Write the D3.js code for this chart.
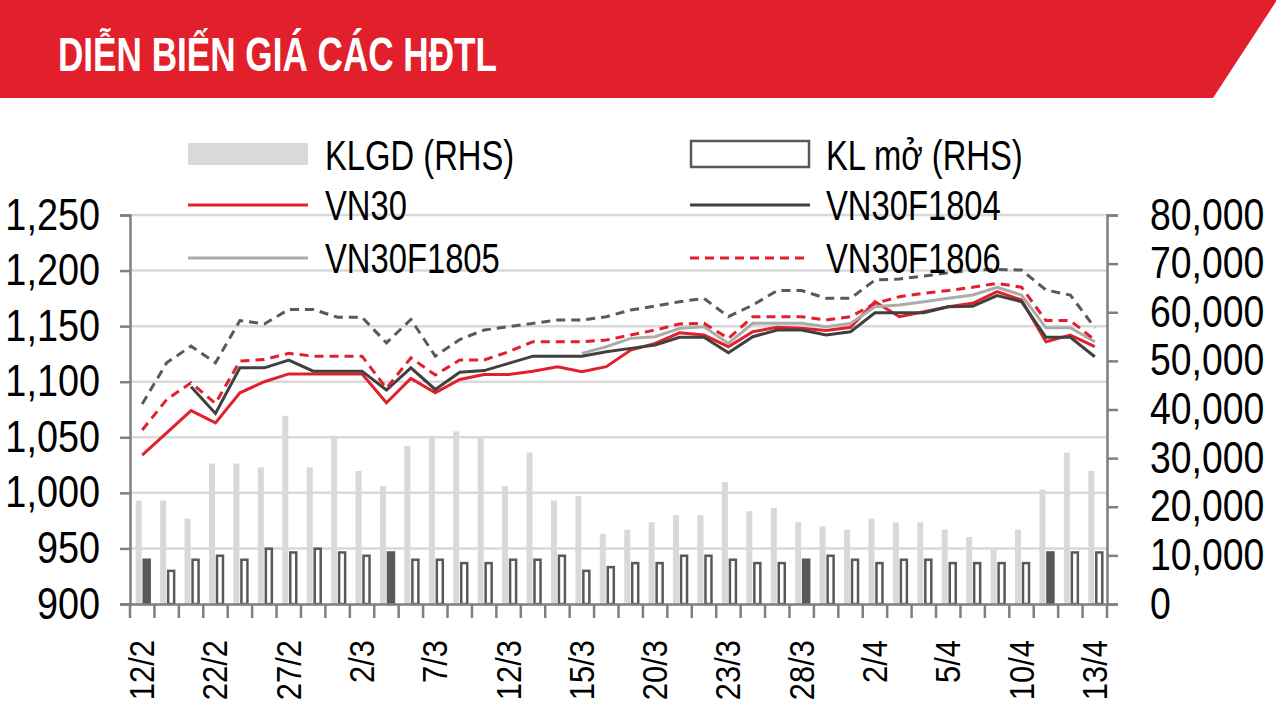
<!DOCTYPE html>
<html>
<head>
<meta charset="utf-8">
<script src="https://cdn.jsdelivr.net/npm/d3@7"></script>
<style>
  body { margin: 0; background: #fff; }
  svg { display: block; }
  text { font-family: "Liberation Sans", Arial, sans-serif; }
</style>
</head>
<body>
<div id="chart"></div>
<script>
// trading days, 12/2 -> 13/4
const dates = ["12/2","13/2","21/2","22/2","23/2","26/2","27/2","28/2","1/3","2/3",
  "5/3","6/3","7/3","8/3","9/3","12/3","13/3","14/3","15/3","16/3",
  "19/3","20/3","21/3","22/3","23/3","26/3","27/3","28/3","29/3","30/3",
  "2/4","3/4","4/4","5/4","6/4","9/4","10/4","11/4","12/4","13/4"];
const shownDates = ["12/2","22/2","27/2","2/3","7/3","12/3","15/3","20/3","23/3","28/3","2/4","5/4","10/4","13/4"];

// KLGD (RHS)
const klgd = [21290, 21290, 17570, 28880, 28880, 28110, 38710, 28110, 34580, 27350,
  24250, 32520, 34580, 35490, 34380, 24250, 31150, 21290, 22180, 14470,
  15300, 16810, 18250, 18250, 25080, 19080, 19780, 16810, 15980, 15300,
  17570, 16810, 16810, 15300, 13780, 11160, 15300, 23560, 31150, 27350];
// KL mo (RHS)
const klMo = [9100, 6820, 9100, 9920, 9100, 11370, 10600, 11370, 10600, 9920,
  10600, 9100, 9100, 8410, 8410, 9100, 9100, 9920, 6820, 7580,
  8410, 8410, 9920, 9920, 9100, 8410, 8410, 9100, 9920, 9100,
  8410, 9100, 9100, 8410, 8410, 8410, 8410, 10600, 10600, 10600];
const klMoFilled = ["12/2", "5/3", "28/3", "11/4"];

const vn30 = [1034, 1054, 1074, 1063, 1090, 1100, 1107, 1107, 1107, 1107,
  1081, 1103, 1090, 1102, 1106.5, 1106.5, 1109.5, 1113.5, 1109, 1113.5,
  1128.5, 1134.5, 1144, 1142, 1131.5, 1145, 1149, 1148, 1146, 1149,
  1172, 1158.5, 1163, 1167.5, 1170.5, 1181, 1173.5, 1136, 1142, 1131.5];
const f1804 = [null, null, 1095.5, 1071.5, 1112.5, 1112.5, 1119.5, 1109.5, 1109.5, 1109.5,
  1092.5, 1112.5, 1093, 1108.5, 1110, 1116.5, 1123, 1123, 1123, 1127,
  1130, 1133, 1140, 1140, 1126, 1140.5, 1146.5, 1146.5, 1142, 1145,
  1162, 1162, 1162, 1167.5, 1168, 1177.5, 1172, 1140, 1140, 1122.5];
const f1805 = [null, null, null, null, null, null, null, null, null, null,
  null, null, null, null, null, null, null, null, 1125.5, 1131.5,
  1139, 1140.5, 1148, 1149.5, 1134.5, 1152.5, 1152.5, 1152.5, 1149.5, 1152.5,
  1167.5, 1169, 1172, 1175, 1178, 1185, 1178, 1148.5, 1148.5, 1136];
const f1806 = [1056.5, 1084, 1099, 1080.5, 1118.5, 1120, 1125.5, 1123, 1123, 1123,
  1094, 1121.5, 1106, 1119.5, 1119.5, 1127, 1136, 1136, 1136, 1137.5,
  1142, 1146.5, 1152, 1152.5, 1139, 1158.5, 1158.5, 1158.5, 1155.5, 1158.5,
  1170.5, 1176.5, 1179.5, 1182, 1185, 1188.5, 1185, 1155, 1155, 1137.5];
// grey dashed series, not named in the legend
const f1809 = [1080, 1117, 1132, 1117, 1155, 1152, 1165, 1165, 1158, 1158,
  1135, 1156, 1123, 1138, 1146.5, 1149.5, 1152.5, 1155.5, 1155.5, 1158.5,
  1164.5, 1168, 1172, 1175, 1158.5, 1169, 1182, 1182, 1175, 1175,
  1191.5, 1192.5, 1195, 1198, 1200.5, 1201, 1200.5, 1182.5, 1178, 1148.5];

const leftTicks = [900, 950, 1000, 1050, 1100, 1150, 1200, 1250];
const rightTicks = [0, 10000, 20000, 30000, 40000, 50000, 60000, 70000, 80000];

const width = 1276, height = 718;
const plot = { left: 130, right: 1107, top: 215, bottom: 604 };

const red = "#e2202b", dark = "#404040", lightLine = "#ababab", axisGrey = "#7f7f7f";

// squeeze text horizontally to look like a narrow face (no narrow font installed)
function narrow(sel, k) {
  sel.each(function () {
    const t = d3.select(this);
    const x0 = +(t.attr("x") || 0);
    const tr = t.attr("transform") || "";
    t.attr("x", x0 / k).attr("transform", `${tr} scale(${k},1)`);
  });
}

const svg = d3.select("#chart").append("svg")
  .attr("width", width).attr("height", height);

// title banner
svg.append("path")
  .attr("d", `M0,0 L1277,0 L1213,98 L0,98 Z`)
  .attr("fill", "#e2202b");
svg.append("text")
  .attr("x", 58).attr("y", 71)
  .attr("fill", "#fff")
  .attr("font-size", 48)
  .attr("font-weight", "bold")
  .attr("textLength", 439)
  .attr("lengthAdjust", "spacingAndGlyphs")
  .text("DIỄN BIẾN GIÁ CÁC HĐTL");

const x = d3.scaleBand().domain(dates).range([plot.left, plot.right]).padding(0);
const yL = d3.scaleLinear().domain([900, 1250]).range([plot.bottom, plot.top]);
const yR = d3.scaleLinear().domain([0, 80000]).range([plot.bottom, plot.top]);
const cx = d => x(d) + x.bandwidth() / 2;

// gridlines
svg.append("g")
  .selectAll("line")
  .data(leftTicks.slice(1))
  .join("line")
  .attr("x1", plot.left).attr("x2", plot.right)
  .attr("y1", d => yL(d)).attr("y2", d => yL(d))
  .attr("stroke", "#d9d9d9").attr("stroke-width", 2.5);

// KLGD bars
svg.append("g")
  .selectAll("rect")
  .data(dates)
  .join("rect")
  .attr("x", d => cx(d) - 6.5)
  .attr("width", 6)
  .attr("y", (d, i) => yR(klgd[i]))
  .attr("height", (d, i) => yR(0) - yR(klgd[i]))
  .attr("fill", "#d9d9d9");

// KL mo bars
svg.append("g")
  .selectAll("rect")
  .data(dates)
  .join("rect")
  .attr("x", d => cx(d) + 1.5)
  .attr("width", 6)
  .attr("y", (d, i) => yR(klMo[i]))
  .attr("height", (d, i) => yR(0) - yR(klMo[i]))
  .attr("fill", d => klMoFilled.includes(d) ? "#595959" : "#fff")
  .attr("stroke", "#595959")
  .attr("stroke-width", 2.5);

// lines
const line = d3.line()
  .defined(d => d.v != null)
  .x(d => cx(d.date))
  .y(d => yL(d.v));
const series = [
  { values: f1809, color: "#595959", dash: "9,6" },
  { values: vn30, color: red, dash: null },
  { values: f1805, color: lightLine, dash: null },
  { values: f1804, color: dark, dash: null },
  { values: f1806, color: red, dash: "9,6" }
];
svg.append("g")
  .selectAll("path")
  .data(series)
  .join("path")
  .attr("d", s => line(s.values.map((v, i) => ({ date: dates[i], v }))))
  .attr("fill", "none")
  .attr("stroke", s => s.color)
  .attr("stroke-width", 3)
  .attr("stroke-dasharray", s => s.dash);

// axes
const leftAxis = svg.append("g")
  .attr("transform", `translate(${plot.left},0)`)
  .call(d3.axisLeft(yL).tickValues(leftTicks).tickFormat(d3.format(",")).tickSize(10).tickPadding(20));
const rightAxis = svg.append("g")
  .attr("transform", `translate(${plot.right},0)`)
  .call(d3.axisRight(yR).tickValues(rightTicks).tickFormat(d3.format(",")).tickSize(11).tickPadding(32));
const bottomAxis = svg.append("g")
  .attr("transform", `translate(0,${plot.bottom})`)
  .call(d3.axisBottom(x).tickValues([]).tickSizeOuter(0));

// ticks between categories
bottomAxis.selectAll(".sep")
  .data(dates.concat(["end"]))
  .join("line")
  .attr("class", "sep")
  .attr("x1", (d, i) => plot.left + i * x.bandwidth())
  .attr("x2", (d, i) => plot.left + i * x.bandwidth())
  .attr("y1", 0).attr("y2", 14)
  .attr("stroke", axisGrey).attr("stroke-width", 2.5);

const xLabels = bottomAxis.selectAll(".lbl")
  .data(shownDates)
  .join("text")
  .attr("class", "lbl")
  .attr("transform", d => `translate(${cx(d) + 12},36) rotate(-90)`)
  .attr("text-anchor", "end")
  .attr("fill", "#000")
  .attr("font-size", 36)
  .text(d => d);
narrow(xLabels, 0.86);

[leftAxis, rightAxis, bottomAxis].forEach(g => {
  g.selectAll(".domain").attr("stroke", axisGrey).attr("stroke-width", 2.5);
  g.selectAll(".tick line").attr("stroke", axisGrey).attr("stroke-width", 2.5);
  g.selectAll(".tick text").attr("fill", "#000").attr("font-size", 44)
    .attr("font-family", '"Liberation Sans", Arial, sans-serif');
});
rightAxis.selectAll(".tick text").attr("text-anchor", "start");
narrow(leftAxis.selectAll(".tick text"), 0.86);
narrow(rightAxis.selectAll(".tick text"), 0.85);

// legend
const legend = svg.append("g");
const lx1 = 188, lx2 = 690, sw = 120;
legend.append("rect").attr("x", lx1).attr("y", 143).attr("width", sw).attr("height", 22).attr("fill", "#d9d9d9");
legend.append("rect").attr("x", lx2 + 1).attr("y", 141).attr("width", sw - 2).attr("height", 26)
  .attr("fill", "#fff").attr("stroke", "#595959").attr("stroke-width", 2.5);
const legendLines = [
  { x: lx1, y: 205, color: red, dash: null },
  { x: lx2, y: 205, color: dark, dash: null },
  { x: lx1, y: 258, color: lightLine, dash: null },
  { x: lx2, y: 258, color: red, dash: "9,6" }
];
legend.selectAll("line")
  .data(legendLines)
  .join("line")
  .attr("x1", d => d.x).attr("x2", d => d.x + sw)
  .attr("y1", d => d.y).attr("y2", d => d.y)
  .attr("stroke", d => d.color).attr("stroke-width", 3)
  .attr("stroke-dasharray", d => d.dash);
const legendTexts = [
  { x: 325, y: 170, t: "KLGD (RHS)" },
  { x: 826, y: 170, t: "KL mở (RHS)" },
  { x: 325, y: 220, t: "VN30" },
  { x: 826, y: 220, t: "VN30F1804" },
  { x: 325, y: 273, t: "VN30F1805" },
  { x: 826, y: 273, t: "VN30F1806" }
];
const legendLabels = legend.selectAll("text")
  .data(legendTexts)
  .join("text")
  .attr("x", d => d.x).attr("y", d => d.y)
  .attr("font-size", 42)
  .attr("fill", "#000")
  .text(d => d.t);
narrow(legendLabels, 0.78);
</script>
</body>
</html>
